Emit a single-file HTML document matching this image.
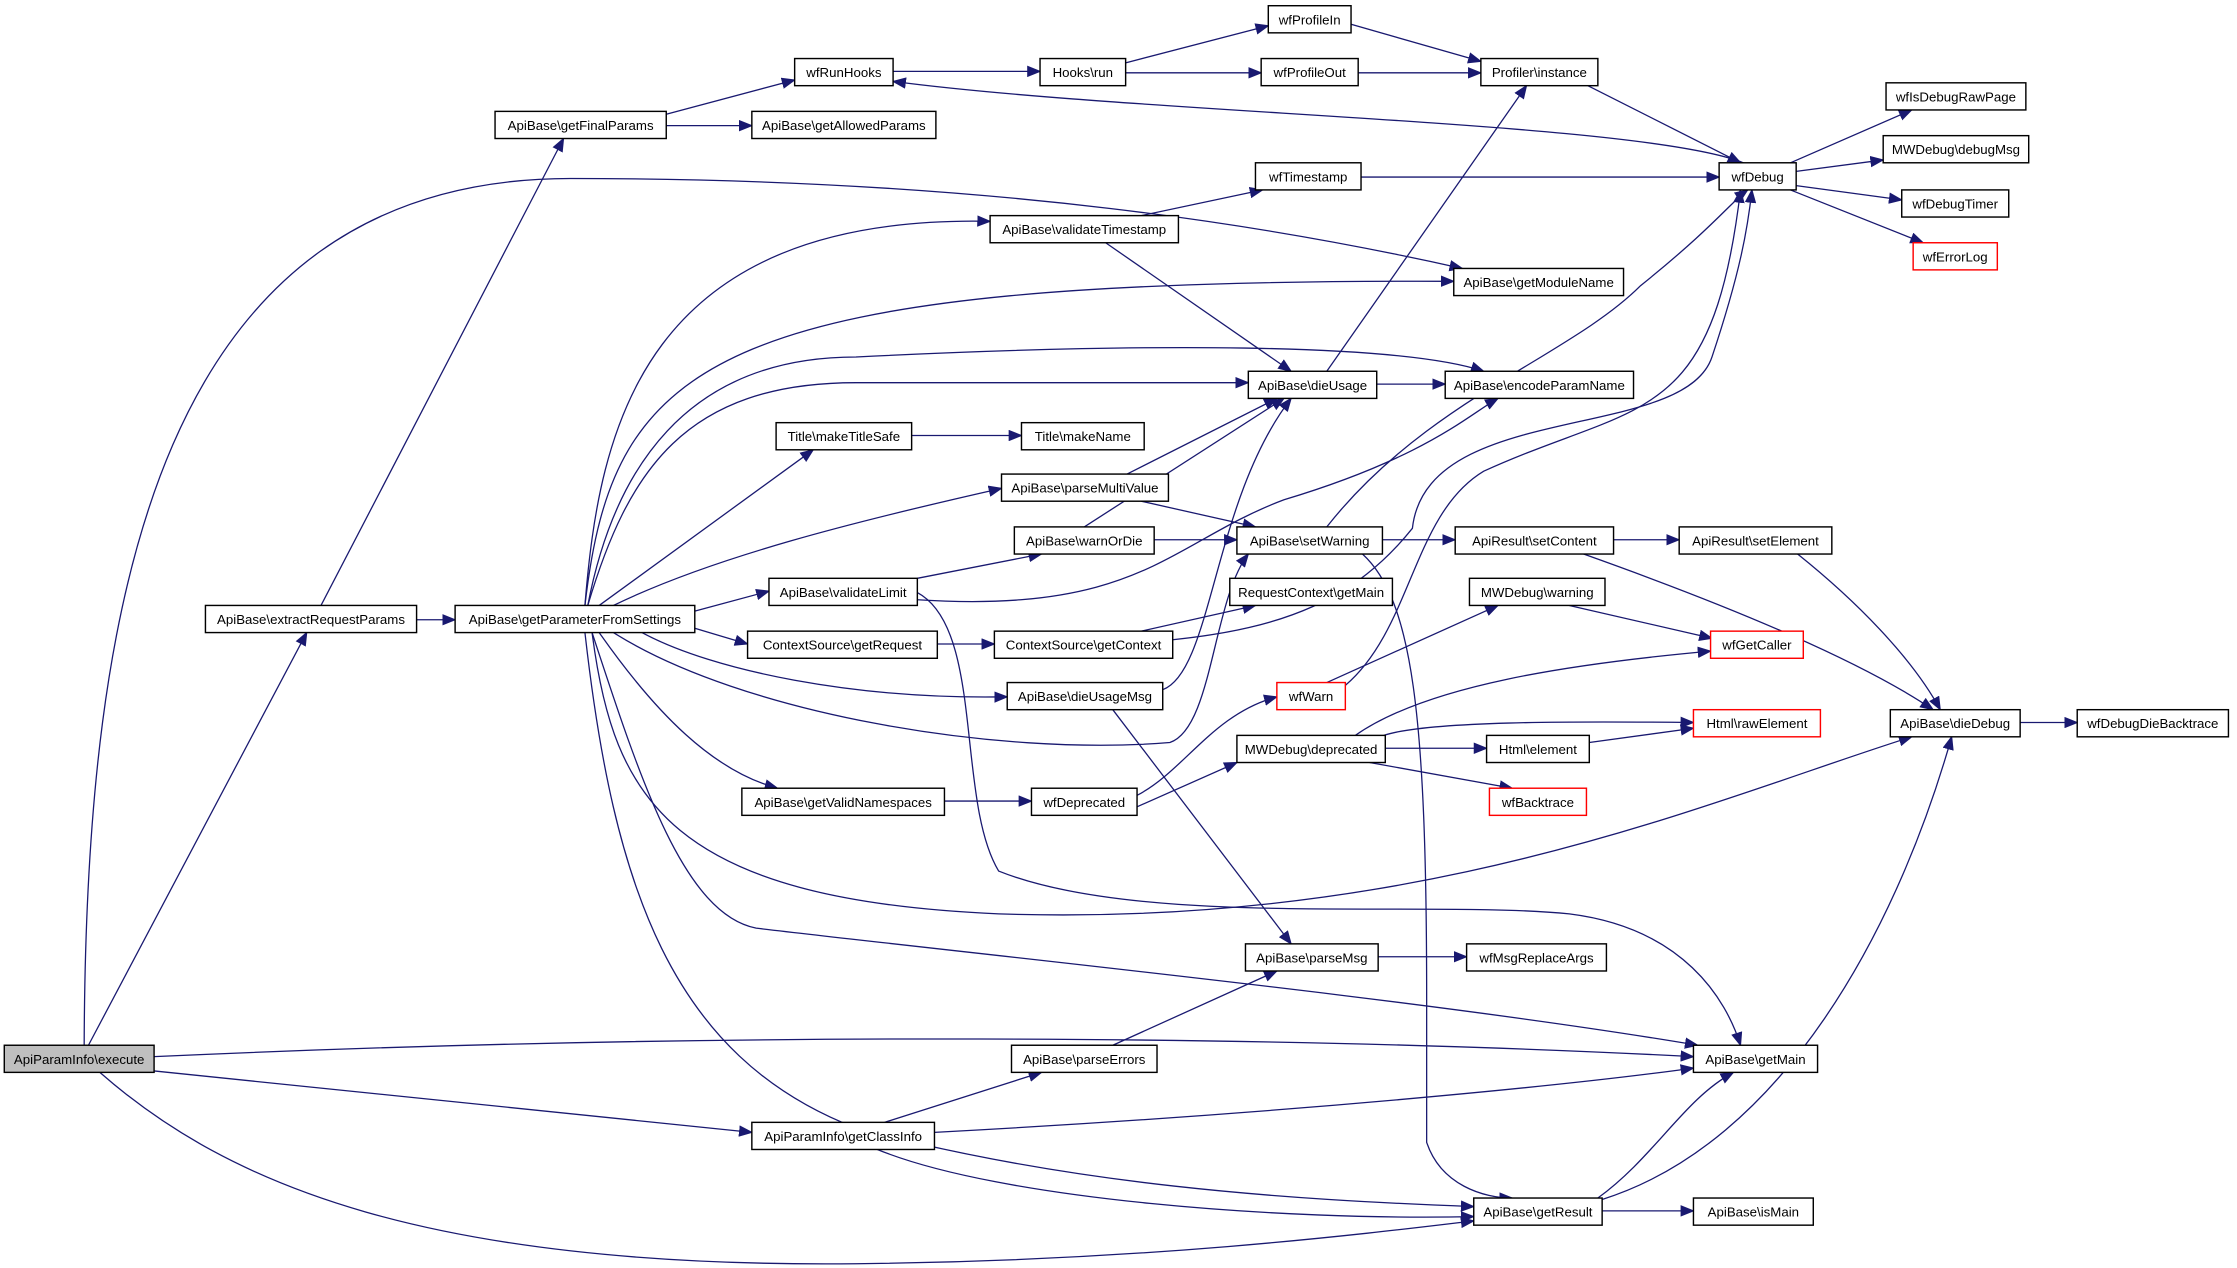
<!DOCTYPE html>
<html><head><meta charset="utf-8"><style>
html,body{margin:0;padding:0;background:#fff;}
svg{display:block;}
text{font-family:"Liberation Sans",Arial,sans-serif;font-size:9.3px;fill:#000;text-anchor:middle;}
.e{fill:none;stroke:#191970;stroke-width:0.9;}
.n{fill:#fff;stroke:#000;stroke-width:1;}
.r{fill:#fff;stroke:#ff0000;stroke-width:1;}
</style></head><body>
<svg width="2237" height="1268" viewBox="0 0 1568 888" preserveAspectRatio="none" xmlns="http://www.w3.org/2000/svg">
<defs><marker id="a" markerWidth="10" markerHeight="8" refX="9" refY="4" orient="auto" markerUnits="userSpaceOnUse"><path d="M0,0 L10,4 L0,8 Z" fill="#191970"/></marker></defs>
<g class="e" marker-end="url(#a)">
<path d="M62,732 L215,443"/>
<path d="M59,732 C60,420 110,125 400,125 C700,125 900,160 1025,188"/>
<path d="M108,740 C500,722 900,725 1187,740"/>
<path d="M108,750 L527,793"/>
<path d="M70,751 C160,830 300,888 600,885 C800,883 950,865 1033,855"/>
<path d="M292,434 L319,434"/>
<path d="M225,424 L395,97"/>
<path d="M467,80 L557,56"/>
<path d="M467,88 L527,88"/>
<path d="M626,50 L729,50"/>
<path d="M789,44 L889,18"/>
<path d="M789,51 L884,51"/>
<path d="M947,17 L1038,43"/>
<path d="M952,51 L1038,51"/>
<path d="M1113,60 L1220,114"/>
<path d="M1222,114 C1150,85 800,80 626,57"/>
<path d="M1255,114 L1340,77"/>
<path d="M1259,120 L1320,112"/>
<path d="M1259,130 L1333,140"/>
<path d="M1255,133 L1348,170"/>
<path d="M954,124 L1205,124"/>
<path d="M800,151 L885,133"/>
<path d="M775,170 L905,260"/>
<path d="M930,260 L1070,60"/>
<path d="M965,269 L1013,269"/>
<path d="M410,424 C420,300 450,150 694,155"/>
<path d="M410,424 C430,250 500,195 1019,197"/>
<path d="M412,424 C430,330 480,250 600,250 C800,240 980,240 1040,260"/>
<path d="M412,424 C440,330 480,268 600,268 L875,268"/>
<path d="M420,424 L570,315"/>
<path d="M430,424 C500,390 600,365 702,342"/>
<path d="M487,428 L539,414"/>
<path d="M487,440 L524,451"/>
<path d="M450,443 C500,470 600,490 706,488"/>
<path d="M420,443 C460,500 500,540 545,552"/>
<path d="M415,443 C450,550 480,640 530,650 C700,670 1000,700 1190,732"/>
<path d="M415,443 C430,560 470,630 700,640 C1000,650 1200,560 1340,516"/>
<path d="M410,443 C430,620 470,740 600,790 C750,830 900,840 1033,845"/>
<path d="M430,443 C520,500 700,530 820,520 C850,510 850,420 875,388"/>
<path d="M639,305 L716,305"/>
<path d="M790,332 L895,279"/>
<path d="M800,351 L880,369"/>
<path d="M760,369 L900,279"/>
<path d="M809,378 L867,378"/>
<path d="M643,405 L730,388"/>
<path d="M643,420 C800,430 820,380 900,350 C1000,320 1030,290 1050,279"/>
<path d="M643,415 C690,440 670,560 700,610 C800,650 1000,630 1100,640 C1180,650 1210,700 1220,732"/>
<path d="M930,369 C1000,280 1100,250 1150,200 C1200,160 1215,140 1225,133"/>
<path d="M969,378 L1020,378"/>
<path d="M955,388 C990,420 1000,500 1000,700 L1000,800 C1010,830 1040,839 1060,839"/>
<path d="M1131,378 L1177,378"/>
<path d="M1110,388 C1200,420 1300,460 1355,497"/>
<path d="M1260,388 C1300,420 1340,460 1360,497"/>
<path d="M657,451 L697,451"/>
<path d="M800,442 L880,424"/>
<path d="M822,448 C900,440 950,420 990,370 C1000,280 1180,310 1200,250 C1220,190 1225,160 1228,133"/>
<path d="M1100,424 L1200,447"/>
<path d="M780,497 L905,661"/>
<path d="M815,483 C850,470 850,350 905,279"/>
<path d="M930,478 L1050,424"/>
<path d="M943,480 C990,440 990,360 1040,330 C1150,280 1200,300 1220,133"/>
<path d="M797,557 C830,540 850,500 895,488"/>
<path d="M797,565 L867,534"/>
<path d="M662,561 L723,561"/>
<path d="M950,515 C1000,480 1100,465 1199,456"/>
<path d="M970,515 C1000,505 1100,505 1187,506"/>
<path d="M971,524 L1042,524"/>
<path d="M960,534 L1060,552"/>
<path d="M1114,520 L1187,510"/>
<path d="M1416,506 L1456,506"/>
<path d="M966,670 L1028,670"/>
<path d="M780,732 L895,680"/>
<path d="M620,786 L730,751"/>
<path d="M655,793 C900,780 1100,760 1187,748"/>
<path d="M615,805 C700,840 900,855 1033,852"/>
<path d="M1120,839 C1160,810 1180,770 1215,751"/>
<path d="M1123,840 C1250,800 1330,650 1368,516"/>
<path d="M1123,848 L1187,848"/>
</g>
<g>
<rect x="3" y="732" width="105" height="19" fill="#bfbfbf" stroke="#000"/><text x="55.5" y="745">ApiParamInfo\execute</text>
<rect class="n" x="144" y="424" width="148" height="19"/><text x="218" y="437">ApiBase\extractRequestParams</text>
<rect class="n" x="319" y="424" width="168" height="19"/><text x="403" y="437">ApiBase\getParameterFromSettings</text>
<rect class="n" x="347" y="78" width="120" height="19"/><text x="407" y="91">ApiBase\getFinalParams</text>
<rect class="n" x="557" y="41" width="69" height="19"/><text x="591.5" y="54">wfRunHooks</text>
<rect class="n" x="527" y="78" width="129" height="19"/><text x="591.5" y="91">ApiBase\getAllowedParams</text>
<rect class="n" x="729" y="41" width="60" height="19"/><text x="759" y="54">Hooks\run</text>
<rect class="n" x="889" y="4" width="58" height="19"/><text x="918" y="17">wfProfileIn</text>
<rect class="n" x="884" y="41" width="68" height="19"/><text x="918" y="54">wfProfileOut</text>
<rect class="n" x="1038" y="41" width="82" height="19"/><text x="1079" y="54">Profiler\instance</text>
<rect class="n" x="1205" y="114" width="54" height="19"/><text x="1232" y="127">wfDebug</text>
<rect class="n" x="1322" y="58" width="98" height="19"/><text x="1371" y="71">wfIsDebugRawPage</text>
<rect class="n" x="1320" y="95" width="102" height="19"/><text x="1371" y="108">MWDebug\debugMsg</text>
<rect class="n" x="1333" y="133" width="75" height="19"/><text x="1370.5" y="146">wfDebugTimer</text>
<rect class="r" x="1341" y="170" width="59" height="19"/><text x="1370.5" y="183">wfErrorLog</text>
<rect class="n" x="880" y="114" width="74" height="19"/><text x="917" y="127">wfTimestamp</text>
<rect class="n" x="694" y="151" width="132" height="19"/><text x="760" y="164">ApiBase\validateTimestamp</text>
<rect class="n" x="1019" y="188" width="119" height="19"/><text x="1078.5" y="201">ApiBase\getModuleName</text>
<rect class="n" x="875" y="260" width="90" height="19"/><text x="920" y="273">ApiBase\dieUsage</text>
<rect class="n" x="1013" y="260" width="132" height="19"/><text x="1079" y="273">ApiBase\encodeParamName</text>
<rect class="n" x="544" y="296" width="95" height="19"/><text x="591.5" y="309">Title\makeTitleSafe</text>
<rect class="n" x="716" y="296" width="86" height="19"/><text x="759" y="309">Title\makeName</text>
<rect class="n" x="702" y="332" width="117" height="19"/><text x="760.5" y="345">ApiBase\parseMultiValue</text>
<rect class="n" x="711" y="369" width="98" height="19"/><text x="760" y="382">ApiBase\warnOrDie</text>
<rect class="n" x="867" y="369" width="102" height="19"/><text x="918" y="382">ApiBase\setWarning</text>
<rect class="n" x="1020" y="369" width="111" height="19"/><text x="1075.5" y="382">ApiResult\setContent</text>
<rect class="n" x="1177" y="369" width="107" height="19"/><text x="1230.5" y="382">ApiResult\setElement</text>
<rect class="n" x="539" y="405" width="104" height="19"/><text x="591" y="418">ApiBase\validateLimit</text>
<rect class="n" x="862" y="405" width="114" height="19"/><text x="919" y="418">RequestContext\getMain</text>
<rect class="n" x="1030" y="405" width="95" height="19"/><text x="1077.5" y="418">MWDebug\warning</text>
<rect class="n" x="524" y="442" width="133" height="19"/><text x="590.5" y="455">ContextSource\getRequest</text>
<rect class="n" x="697" y="442" width="125" height="19"/><text x="759.5" y="455">ContextSource\getContext</text>
<rect class="r" x="1199" y="442" width="65" height="19"/><text x="1231.5" y="455">wfGetCaller</text>
<rect class="n" x="706" y="478" width="109" height="19"/><text x="760.5" y="491">ApiBase\dieUsageMsg</text>
<rect class="r" x="895" y="478" width="48" height="19"/><text x="919" y="491">wfWarn</text>
<rect class="r" x="1187" y="497" width="89" height="19"/><text x="1231.5" y="510">Html\rawElement</text>
<rect class="n" x="1325" y="497" width="91" height="19"/><text x="1370.5" y="510">ApiBase\dieDebug</text>
<rect class="n" x="1456" y="497" width="106" height="19"/><text x="1509" y="510">wfDebugDieBacktrace</text>
<rect class="n" x="867" y="515" width="104" height="19"/><text x="919" y="528">MWDebug\deprecated</text>
<rect class="n" x="1042" y="515" width="72" height="19"/><text x="1078" y="528">Html\element</text>
<rect class="n" x="520" y="552" width="142" height="19"/><text x="591" y="565">ApiBase\getValidNamespaces</text>
<rect class="n" x="723" y="552" width="74" height="19"/><text x="760" y="565">wfDeprecated</text>
<rect class="r" x="1044" y="552" width="68" height="19"/><text x="1078" y="565">wfBacktrace</text>
<rect class="n" x="873" y="661" width="93" height="19"/><text x="919.5" y="674">ApiBase\parseMsg</text>
<rect class="n" x="1028" y="661" width="98" height="19"/><text x="1077" y="674">wfMsgReplaceArgs</text>
<rect class="n" x="709" y="732" width="102" height="19"/><text x="760" y="745">ApiBase\parseErrors</text>
<rect class="n" x="1187" y="732" width="87" height="19"/><text x="1230.5" y="745">ApiBase\getMain</text>
<rect class="n" x="527" y="786" width="128" height="19"/><text x="591" y="799">ApiParamInfo\getClassInfo</text>
<rect class="n" x="1033" y="839" width="90" height="19"/><text x="1078" y="852">ApiBase\getResult</text>
<rect class="n" x="1187" y="839" width="84" height="19"/><text x="1229" y="852">ApiBase\isMain</text>
</g>
</svg>
</body></html>
